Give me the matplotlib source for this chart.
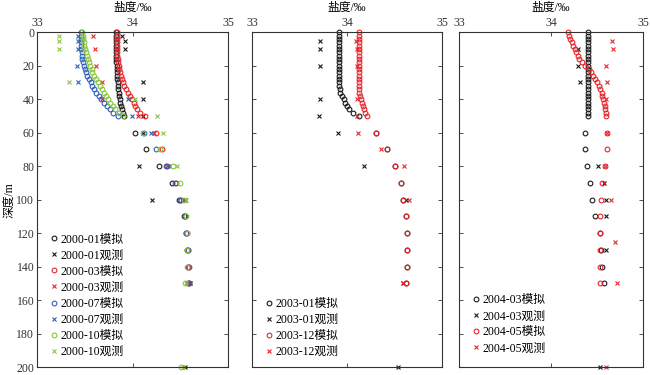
import matplotlib
matplotlib.use("Agg")
import matplotlib.pyplot as plt

plt.rcParams['font.family'] = ['Liberation Serif', 'Noto Sans CJK SC', 'DejaVu Sans']
plt.rcParams['font.size'] = 8.5

# 模式深度层 (m)
depth_upper = [0, 2, 4, 6, 8, 10, 12, 14, 16, 18, 20, 22, 24, 26, 28, 30,
               32, 34, 36, 38, 40, 42, 44, 46, 48, 50]
depth_deep = [60, 70, 80, 90, 100, 110, 120, 130, 140, 150]

# ---- 图1: 2000年 ----
m200001 = [33.83, 33.83, 33.83, 33.83, 33.83, 33.83, 33.83, 33.83, 33.83, 33.83,
           33.84, 33.84, 33.84, 33.84, 33.84, 33.85, 33.85, 33.85, 33.86, 33.86,
           33.87, 33.87, 33.88, 33.89, 33.90, 33.91,
           34.02, 34.14, 34.28, 34.41, 34.49, 34.54, 34.56, 34.57, 34.58, 34.58]
m200003 = [33.84, 33.84, 33.84, 33.84, 33.84, 33.84, 33.84, 33.84, 33.85, 33.85,
           33.86, 33.86, 33.87, 33.88, 33.89, 33.90, 33.91, 33.93, 33.95, 33.97,
           33.99, 34.01, 34.03, 34.05, 34.08, 34.13,
           34.24, 34.31, 34.36, 34.44, 34.51, 34.55, 34.57, 34.58, 34.58, 34.59]
m200007 = [33.46, 33.46, 33.46, 33.46, 33.46, 33.46, 33.47, 33.47, 33.47, 33.48,
           33.49, 33.50, 33.51, 33.52, 33.54, 33.56, 33.58, 33.60, 33.62, 33.65,
           33.67, 33.70, 33.73, 33.76, 33.80, 33.85,
           34.12, 34.25, 34.35, 34.45, 34.50, 34.55, 34.56, 34.58, 34.59, 34.59]
m200010 = [33.47, 33.48, 33.48, 33.49, 33.49, 33.50, 33.51, 33.52, 33.53, 33.54,
           33.55, 33.57, 33.58, 33.60, 33.62, 33.64, 33.66, 33.68, 33.70, 33.72,
           33.74, 33.76, 33.79, 33.82, 33.86, 33.90,
           34.11, 34.29, 34.42, 34.50, 34.54, 34.56, 34.57, 34.57, 34.57, 34.55]
m200010_bottom_depth = [200]
m200010_bottom = [34.51]

o200001_depth = [2, 5, 10, 30, 40, 50, 60, 80, 100, 150, 200]
o200001 = [33.89, 33.92, 33.92, 34.11, 34.11, 34.11, 34.11, 34.07, 34.20, 34.59, 34.55]
o200003_depth = [2, 10, 20, 30, 40, 50, 60, 80, 100, 150]
o200003 = [33.59, 33.61, 33.62, 33.68, 33.68, 34.06, 34.22, 34.36, 34.55, 34.60]
o200007_depth = [2, 5, 10, 20, 30, 40, 50, 60, 80, 100, 150]
o200007 = [33.43, 33.43, 33.43, 33.42, 33.43, 33.95, 33.99, 34.19, 34.38, 34.55, 34.60]
o200010_depth = [2, 5, 10, 30, 40, 50, 60, 80, 100, 150, 200]
o200010 = [33.23, 33.23, 33.23, 33.33, 34.02, 34.26, 34.32, 34.46, 34.56, 34.56, 34.53]

# ---- 图2: 2003年 ----
m200301 = [33.91, 33.91, 33.91, 33.91, 33.91, 33.91, 33.91, 33.91, 33.91, 33.91,
           33.91, 33.91, 33.91, 33.91, 33.91, 33.91, 33.91, 33.92, 33.93, 33.95,
           33.97, 33.98, 34.00, 34.02, 34.06, 34.13,
           34.30, 34.42, 34.51, 34.57, 34.59, 34.62, 34.63, 34.63, 34.63, 34.62]
m200312 = [34.13, 34.13, 34.13, 34.13, 34.13, 34.13, 34.13, 34.13, 34.13, 34.13,
           34.13, 34.13, 34.13, 34.13, 34.13, 34.13, 34.13, 34.13, 34.13, 34.14,
           34.15, 34.16, 34.17, 34.18, 34.19, 34.21,
           34.30, 34.42, 34.51, 34.57, 34.59, 34.62, 34.63, 34.63, 34.63, 34.62]
o200301_depth = [5, 10, 20, 40, 50, 60, 80, 100, 150, 200]
o200301 = [33.71, 33.71, 33.71, 33.71, 33.70, 33.90, 34.18, 34.62, 34.59, 34.54]
o200312_depth = [5, 10, 20, 40, 50, 60, 70, 80, 100, 150]
o200312 = [34.09, 34.10, 34.10, 34.10, 34.10, 34.11, 34.36, 34.60, 34.65, 34.59]

# ---- 图3: 2004年 ----
m200403 = [34.40, 34.40, 34.40, 34.40, 34.40, 34.40, 34.40, 34.40, 34.40, 34.40,
           34.40, 34.40, 34.40, 34.40, 34.40, 34.40, 34.40, 34.40, 34.40, 34.40,
           34.40, 34.40, 34.40, 34.40, 34.40, 34.40,
           34.37, 34.37, 34.39, 34.42, 34.45, 34.48, 34.53, 34.54, 34.56, 34.58]
m200405 = [34.19, 34.20, 34.21, 34.23, 34.24, 34.26, 34.27, 34.29, 34.31, 34.34,
           34.37, 34.41, 34.44, 34.46, 34.48, 34.50, 34.52, 34.53, 34.55, 34.56,
           34.57, 34.58, 34.59, 34.59, 34.60, 34.60,
           34.61, 34.61, 34.59, 34.56, 34.54, 34.53, 34.53, 34.53, 34.53, 34.53]
o200403_depth = [10, 20, 30, 80, 90, 100, 110, 130, 200]
o200403 = [34.29, 34.29, 34.32, 34.51, 34.58, 34.60, 34.60, 34.60, 34.53]
o200405_depth = [5, 10, 20, 30, 40, 60, 80, 100, 125, 150, 200]
o200405 = [34.66, 34.67, 34.60, 34.61, 34.60, 34.61, 34.59, 34.65, 34.70, 34.72, 34.60]

BLACK = '#1a1a1a'
RED = '#e8262c'
BLUE = '#2f62b8'
GREEN = '#8cc63e'

depth_model = depth_upper + depth_deep

panels = [
    {
        'rect': [0.057, 0.021, 0.294, 0.893],
        'ylabels': True,
        'legend_anchor': (0.016, 0.0),
        'series': [
            ('2000-01模拟', 'o', BLACK, depth_model, m200001),
            ('2000-01观测', 'x', BLACK, o200001_depth, o200001),
            ('2000-03模拟', 'o', RED, depth_model, m200003),
            ('2000-03观测', 'x', RED, o200003_depth, o200003),
            ('2000-07模拟', 'o', BLUE, depth_model, m200007),
            ('2000-07观测', 'x', BLUE, o200007_depth, o200007),
            ('2000-10模拟', 'o', GREEN, depth_model + m200010_bottom_depth,
             m200010 + m200010_bottom),
            ('2000-10观测', 'x', GREEN, o200010_depth, o200010),
        ],
    },
    {
        'rect': [0.388, 0.021, 0.292, 0.893],
        'ylabels': False,
        'legend_anchor': (0.016, 0.0),
        'series': [
            ('2003-01模拟', 'o', BLACK, depth_model, m200301),
            ('2003-01观测', 'x', BLACK, o200301_depth, o200301),
            ('2003-12模拟', 'o', RED, depth_model, m200312),
            ('2003-12观测', 'x', RED, o200312_depth, o200312),
        ],
    },
    {
        'rect': [0.706, 0.021, 0.2831, 0.893],
        'ylabels': False,
        'legend_anchor': (0.016, 0.01),
        'series': [
            ('2004-03模拟', 'o', BLACK, depth_model, m200403),
            ('2004-03观测', 'x', BLACK, o200403_depth, o200403),
            ('2004-05模拟', 'o', RED, depth_model, m200405),
            ('2004-05观测', 'x', RED, o200405_depth, o200405),
        ],
    },
]

fig = plt.figure(figsize=(6.5, 3.75), dpi=100)

for p in panels:
    ax = fig.add_axes(p['rect'])
    for label, marker, color, depth, sal in p['series']:
        if marker == 'o':
            ax.plot(sal, depth, linestyle='none', marker='o', markersize=3.4,
                    markerfacecolor='none', markeredgecolor=color,
                    markeredgewidth=0.8, label=label, clip_on=False)
        else:
            ax.plot(sal, depth, linestyle='none', marker='x', markersize=2.4,
                    color=color, markeredgewidth=0.8, label=label, clip_on=False)

    ax.set_xlim(33, 35)
    ax.set_ylim(200, 0)
    ax.set_xticks([33, 34, 35])
    ax.set_yticks(range(0, 201, 20))
    ax.xaxis.set_label_position('top')
    ax.set_xlabel('盐度/‰', labelpad=5, fontsize=8.5)
    ax.tick_params(direction='in', top=True, right=True, labeltop=True,
                   labelbottom=False, length=3, width=0.6, pad=2,
                   labelsize=8.5, colors='#333333')
    if p['ylabels']:
        ax.set_ylabel('深度/m', labelpad=1, fontsize=8.5)
    else:
        ax.tick_params(labelleft=False)
    for s in ax.spines.values():
        s.set_linewidth(0.8)
        s.set_color('#333333')

    ax.legend(loc='lower left', bbox_to_anchor=p['legend_anchor'],
              frameon=False, numpoints=1, handlelength=0.8,
              handletextpad=0.15, labelspacing=0.34, borderaxespad=0.4,
              fontsize=8.5)

fig.savefig('out.png', dpi=100)
